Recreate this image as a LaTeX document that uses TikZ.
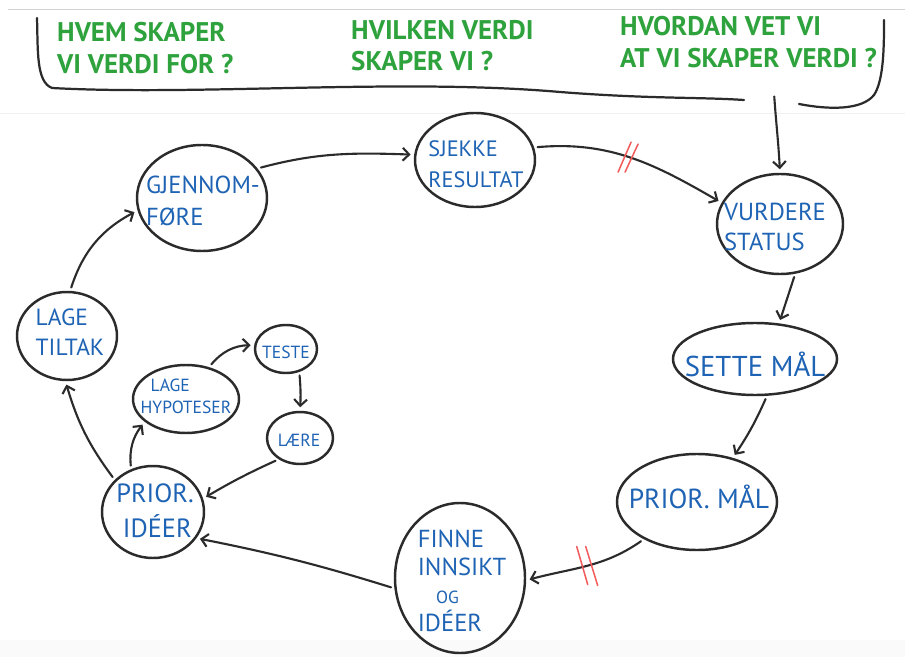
\documentclass[tikz,border=0pt]{standalone}
\usepackage{fontspec}
\setmainfont{PT Sans}
\usetikzlibrary{arrows.meta,shapes.geometric,calc}
% labels are short capitals: never hyphenate them
\uchyph=0
\lefthyphenmin=63
\righthyphenmin=63
% capital letters with marks, entered by code point
\newcommand{\Oslash}{\char"00D8\relax}
\newcommand{\Eacute}{\char"00C9\relax}
\newcommand{\AElig}{\char"00C6\relax}

\definecolor{ink}{HTML}{2B2B2B}
\definecolor{penblue}{HTML}{1E63B4}
\definecolor{pengreen}{HTML}{2EA23C}
\definecolor{penred}{HTML}{F25C5C}

\begin{document}
\begin{tikzpicture}[x=0.03cm,y=-0.03cm,
  sz/.style n args={2}{font=\fontsize{#1}{#2}\selectfont},
  bubble/.style n args={2}{ellipse,draw=ink,line width=2.1pt,inner sep=0pt,
    minimum width=#1,minimum height=#2},
  tag/.style={text=penblue,align=left,inner sep=0pt},
  ask/.style={text=pengreen,align=left,inner sep=0pt,
    font=\bfseries\fontsize{23}{27}\selectfont},
  flow/.style={draw=ink,line width=1.8pt,line cap=round,
    -{Straight Barb[length=5.5pt,width=11pt,line width=1.8pt]},
    shorten >=3pt,shorten <=3pt},
  bracket/.style={draw=ink,line width=1.9pt,line cap=round},
  slash/.style={draw=penred,line width=1.3pt,line cap=round}]

% page frame
\useasboundingbox (0,0) rectangle (905,657);
\fill[white] (0,0) rectangle (905,657);
\fill[gray!4] (0,640) rectangle (905,657);
\draw[gray!35,line width=0.8pt] (8,9) -- (905,9);
\draw[gray!12,line width=0.6pt] (0,113) -- (905,113);

% questions on top
\node[ask,anchor=north west] (q1) at (57,22) {\mbox{HVEM SKAPER}\\\mbox{VI VERDI FOR ?}};
\node[ask,anchor=north west] (q2) at (351,20) {\mbox{HVILKEN VERDI}\\\mbox{SKAPER VI ?}};
\node[ask,anchor=north west] (q3) at (620,16) {\mbox{HVORDAN VET VI}\\\mbox{AT VI SKAPER VERDI ?}};

% brace under the questions
\draw[bracket] (37,18) .. controls (38,50) and (36,82) .. (52,88)
  .. controls (200,96) and (400,78) .. (560,92)
  .. controls (650,99) and (700,97) .. (744,100);
\draw[bracket] (799,104) .. controls (830,110) and (862,110) .. (874,95)
  .. controls (884,80) and (884,45) .. (884,20);
\coordinate (br) at (774,93);

% outer cycle: bubbles
\node[bubble={3.9cm}{3.18cm}] (gj) at (202,198) {};
\node[bubble={3.6cm}{2.82cm}] (sj) at (475,160) {};
\node[bubble={3.78cm}{3.0cm}] (vu) at (780,224) {};
\node[bubble={4.92cm}{2.16cm}] (se) at (755,359) {};
\node[bubble={4.8cm}{2.88cm}] (pm) at (697,502) {};
\node[bubble={3.9cm}{4.5cm}] (fi) at (460,578) {};
\node[bubble={3.06cm}{2.76cm}] (pi) at (153,512) {};
\node[bubble={3.0cm}{2.64cm}] (lt) at (67,336) {};

% inner loop: bubbles
\node[bubble={3.18cm}{2.04cm}] (lh) at (186,399) {};
\node[bubble={1.86cm}{1.44cm}] (te) at (286,349) {};
\node[bubble={1.98cm}{1.56cm}] (la) at (300,438) {};

% bubble texts
\node[tag,sz={21}{27}] (gj-t) at (203,201) {\mbox{GJENNOM-}\\\mbox{F\Oslash RE}};
\node[tag,sz={19}{26}] (sj-t) at (476,164) {\mbox{SJEKKE}\\\mbox{RESULTAT}};
\node[tag,sz={21}{25}] (vu-t) at (775,227) {\mbox{VURDERE}\\\mbox{STATUS}};
\node[tag,sz={24.5}{30}] (se-t) at (755,364) {\mbox{SETTE MÅL}};
\node[tag,sz={23.5}{30}] (pm-t) at (699,497) {\mbox{PRIOR. MÅL}};
\node[tag,sz={21}{24}] (fi-t) at (462,581)
  {\mbox{FINNE}\\\mbox{INNSIKT}\\\hspace*{0.55cm}\mbox{\fontsize{15}{18}\selectfont OG}\\\mbox{ID\Eacute ER}};
\node[tag,sz={22.5}{30}] (pi-t) at (155,511) {\mbox{PRIOR.}\\\hspace*{0.2cm}\mbox{ID\Eacute ER}};
\node[tag,sz={20}{26}] (lt-t) at (70,332) {\mbox{LAGE}\\\mbox{TILTAK}};
\node[tag,sz={15}{19}] (lh-t) at (186,396) {\hspace*{0.3cm}\mbox{LAGE}\\\mbox{HYPOTESER}};
\node[tag,sz={15}{18}] (te-t) at (286,352) {\mbox{TESTE}};
\node[tag,sz={15}{18}] (la-t) at (299,440) {\mbox{L\AElig RE}};

% connectors of the outer cycle
\draw[flow] (gj.28) to[out=15,in=178] (sj.175);
\draw[flow] (sj.12) to[out=5,in=150] coordinate[pos=0.48] (cut1) (vu.160);
\draw[flow] (br) to[out=-86,in=93] (vu.north);
\draw[flow] (vu.-73) -- (se.56);
\draw[flow] (se.-72) to[bend left=5] (pm.51);
\draw[flow] (pm.215) to[out=215,in=15] coordinate[pos=0.5] (cut2) (fi.-2);
\draw[flow] (fi.189) to[bend right=3] (pi.-31);
\draw[flow] (pi.140) to[bend left=10] (lt.-92);
\draw[flow] (lt.86) to[bend left=22] (gj.191);

% connectors of the inner loop
\draw[flow] (pi.117) to[bend left=22] (lh.209);
\draw[flow] (lh.54) to[bend left=25] (te.173);
\draw[flow] (te.-60) to[bend left=4] (la.90);
\draw[flow] (la.225) to[bend right=3] (pi.15);

% paired cut marks on two connectors
\draw[slash] ($(cut1)+(-10,15)$) -- ($(cut1)+(3,-15)$);
\draw[slash] ($(cut1)+(-3,15)$) -- ($(cut1)+(10,-13)$);
\draw[slash] ($(cut2)+(-11,-19)$) -- ($(cut2)+(0,19)$);
\draw[slash] ($(cut2)+(-2,-19)$) -- ($(cut2)+(10,20)$);
\end{tikzpicture}
\end{document}
